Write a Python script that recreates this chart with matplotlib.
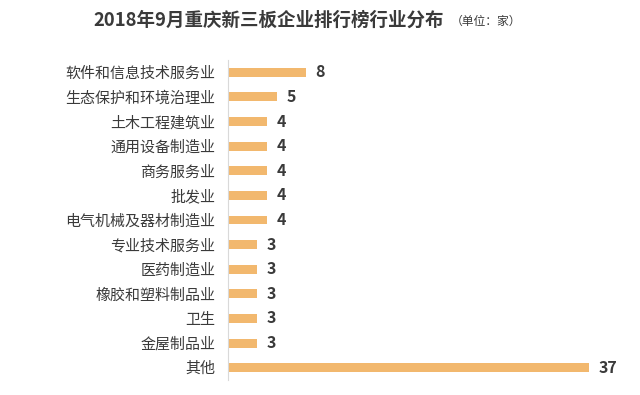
import matplotlib
matplotlib.use("Agg")
import matplotlib.pyplot as plt

plt.rcParams["font.family"] = ["Noto Sans CJK SC", "DejaVu Sans"]

# industries, top to bottom
industries = [
    "软件和信息技术服务业",
    "生态保护和环境治理业",
    "土木工程建筑业",
    "通用设备制造业",
    "商务服务业",
    "批发业",
    "电气机械及器材制造业",
    "专业技术服务业",
    "医药制造业",
    "橡胶和塑料制品业",
    "卫生",
    "金屋制品业",
    "其他",
]
counts = [8, 5, 4, 4, 4, 4, 4, 3, 3, 3, 3, 3, 37]

bar_color = "#F2B86E"
text_color = "#3A3A3A"

fig = plt.figure(figsize=(6.4, 3.95), dpi=100)
ax = fig.add_axes([228 / 640, (395 - 380) / 395, 390 / 640, 320 / 395])

y = list(range(len(industries)))
ax.barh(y, counts, height=0.36, color=bar_color)
ax.set_ylim(len(industries) - 0.5, -0.5)
ax.set_xlim(0, 40)

ax.set_yticks(y)
ax.set_yticklabels(industries, fontsize=10.8, color=text_color,
                   fontweight="medium")
ax.tick_params(axis="y", length=0, pad=9)
ax.set_xticks([])

for s in ["top", "right", "bottom"]:
    ax.spines[s].set_visible(False)
ax.spines["left"].set_color("#D9D9D9")
ax.spines["left"].set_linewidth(0.8)

for yi, v in zip(y, counts):
    ax.text(v + 1.0, yi, str(v), va="center", ha="left",
            fontsize=11.5, fontweight="bold", color=text_color)

fig.text(269 / 640, 0.950, "2018年9月重庆新三板企业排行榜行业分布",
         ha="center", va="center", fontsize=13.3, fontweight="bold",
         color=text_color)
fig.text(486 / 640, 0.947, "（单位：家）", ha="center", va="center",
         fontsize=8.5, color=text_color)

fig.savefig("out.png", dpi=100)
